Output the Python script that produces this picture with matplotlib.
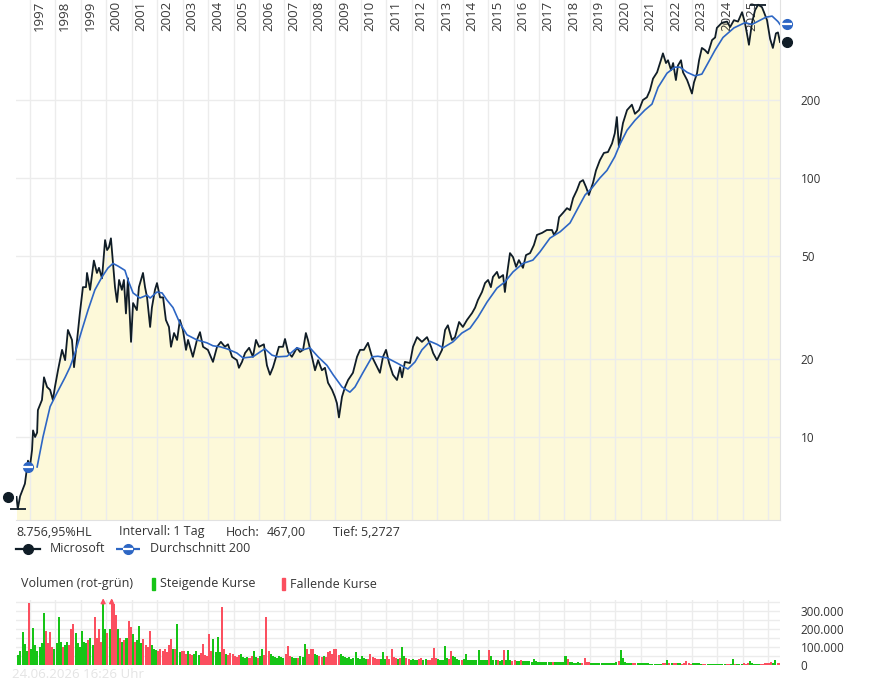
#!/usr/bin/env python3
# Microsoft long-term chart (log scale) with 200-day average and volume panel.

import matplotlib
matplotlib.use("Agg")
import matplotlib.pyplot as plt
import matplotlib.transforms as mtransforms
from matplotlib.lines import Line2D
from matplotlib.patches import Rectangle
from matplotlib.ticker import NullLocator
import numpy as np

plt.rcParams.update({
    "font.family": ["Open Sans", "DejaVu Sans"],
    "font.size": 9,
    "text.color": "#333333",
})

COLORS = {
    "price": "#101d27",
    "ma": "#2d66c4",
    "fill": "#fdf9d9",
    "grid": "#ececec",
    "up": "#16c416",
    "down": "#fb4f5f",
    "label": "#333333",
}

# price (decimal year, value)
price_t = [
    1996.47, 1996.52, 1996.61, 1996.80, 1996.92, 1997.00, 1997.08, 1997.12, 1997.20, 1997.28,
    1997.31, 1997.47, 1997.55, 1997.67, 1997.79, 1997.90, 1997.98, 1998.10, 1998.26, 1998.38,
    1998.49, 1998.65, 1998.73, 1998.85, 1998.96, 1999.08, 1999.20, 1999.24, 1999.36, 1999.51,
    1999.63, 1999.71, 1999.83, 1999.95, 2000.03, 2000.10, 2000.18, 2000.26, 2000.34, 2000.42,
    2000.50, 2000.61, 2000.69, 2000.77, 2000.85, 2000.97, 2001.05, 2001.20, 2001.28, 2001.44,
    2001.52, 2001.60, 2001.72, 2001.79, 2001.91, 2001.99, 2002.11, 2002.23, 2002.34, 2002.46,
    2002.54, 2002.66, 2002.78, 2002.89, 2003.01, 2003.13, 2003.21, 2003.40, 2003.56, 2003.68,
    2003.80, 2003.99, 2004.19, 2004.35, 2004.50, 2004.66, 2004.78, 2004.94, 2005.13, 2005.21,
    2005.33, 2005.45, 2005.61, 2005.76, 2005.88, 2006.00, 2006.19, 2006.31, 2006.43, 2006.55,
    2006.67, 2006.78, 2006.94, 2007.02, 2007.14, 2007.29, 2007.49, 2007.61, 2007.73, 2007.84,
    2007.92, 2008.08, 2008.20, 2008.32, 2008.47, 2008.59, 2008.71, 2008.87, 2008.98, 2009.06,
    2009.14, 2009.26, 2009.38, 2009.50, 2009.69, 2009.85, 2009.97, 2010.12, 2010.28, 2010.44,
    2010.56, 2010.75, 2010.87, 2010.99, 2011.11, 2011.26, 2011.42, 2011.54, 2011.62, 2011.73,
    2011.93, 2012.05, 2012.21, 2012.40, 2012.60, 2012.76, 2012.84, 2012.99, 2013.19, 2013.31,
    2013.42, 2013.58, 2013.70, 2013.86, 2014.01, 2014.17, 2014.37, 2014.49, 2014.60, 2014.76,
    2014.88, 2015.00, 2015.11, 2015.19, 2015.35, 2015.43, 2015.59, 2015.66, 2015.74, 2015.86,
    2015.98, 2016.10, 2016.21, 2016.37, 2016.49, 2016.65, 2016.80, 2016.92, 2017.12, 2017.31,
    2017.51, 2017.59, 2017.71, 2017.79, 2017.94, 2018.10, 2018.22, 2018.34, 2018.49, 2018.61,
    2018.73, 2018.85, 2018.96, 2019.12, 2019.24, 2019.39, 2019.55, 2019.71, 2019.87, 2019.98,
    2020.06, 2020.14, 2020.30, 2020.46, 2020.65, 2020.77, 2020.93, 2021.08, 2021.24, 2021.36,
    2021.48, 2021.64, 2021.79, 2021.87, 2021.99, 2022.07, 2022.19, 2022.27, 2022.38, 2022.46,
    2022.58, 2022.66, 2022.82, 2022.89, 2023.01, 2023.09, 2023.21, 2023.29, 2023.40, 2023.52,
    2023.64, 2023.80, 2023.92, 2023.99, 2024.19, 2024.39, 2024.51, 2024.66, 2024.82, 2024.98,
    2025.09, 2025.17, 2025.25, 2025.37, 2025.49, 2025.61, 2025.76, 2025.84, 2025.96, 2026.08,
    2026.19, 2026.31, 2026.39, 2026.47,
]
price_v = [
    5.87, 5.272694, 5.9, 6.6, 8.1, 7.7, 8.9, 10.6, 10.0, 10.4,
    12.7, 13.9, 17.0, 15.6, 15.2, 13.9, 15.6, 18.1, 21.7, 19.8,
    25.9, 23.7, 18.6, 23.7, 30.1, 37.9, 37.9, 43.0, 37.0, 48.0,
    43.0, 45.0, 41.0, 57.6, 52.7, 54.0, 58.5, 46.8, 37.9, 33.2,
    40.4, 37.0, 40.4, 30.0, 41.0, 23.3, 32.9, 30.9, 37.9, 43.0,
    37.9, 34.6, 26.6, 31.6, 37.0, 39.3, 34.6, 34.6, 28.3, 26.6,
    22.3, 25.2, 23.7, 28.3, 25.9, 21.7, 23.7, 20.4, 23.7, 25.4,
    22.3, 21.7, 19.5, 22.3, 23.3, 22.3, 22.8, 20.4, 19.8, 18.5,
    19.5, 21.1, 22.1, 20.4, 23.7, 22.3, 22.8, 18.9, 17.4, 18.6,
    20.4, 22.3, 22.3, 23.9, 21.3, 20.4, 22.1, 21.3, 21.7, 25.2,
    23.7, 20.4, 18.1, 19.8, 18.1, 18.5, 16.2, 15.2, 14.3, 13.5,
    11.9, 14.3, 15.6, 16.6, 17.7, 20.4, 21.7, 21.7, 23.1, 20.4,
    19.3, 17.7, 20.4, 21.7, 19.3, 17.4, 16.6, 18.6, 17.0, 19.5,
    19.3, 22.3, 24.3, 23.3, 24.3, 22.3, 21.1, 19.8, 21.7, 25.9,
    27.0, 23.7, 24.3, 27.8, 26.6, 28.3, 30.1, 31.6, 33.8, 36.3,
    39.3, 40.4, 37.9, 41.5, 43.4, 41.1, 42.2, 36.3, 42.2, 51.3,
    49.5, 45.4, 48.2, 45.0, 50.4, 51.3, 55.1, 60.3, 61.4, 63.0,
    63.0, 60.3, 63.0, 70.6, 73.3, 76.5, 75.2, 83.6, 89.8, 96.5,
    98.2, 92.2, 86.0, 95.6, 107, 117, 125, 126, 136, 149,
    172, 132, 163, 183, 192, 177, 183, 200, 205, 218,
    242, 256, 285, 303, 278, 285, 261, 278, 239, 272,
    285, 256, 239, 229, 212, 234, 254, 285, 318, 312,
    303, 341, 349, 380, 398, 402, 383, 407, 402, 437,
    398, 362, 327, 398, 445, 467.0, 457, 437, 407, 345,
    318, 362, 365, 335,
]

# 200-day average
ma_t = [
    1997.28, 1997.51, 1997.79, 1998.06, 1998.38, 1998.57, 1998.77, 1999.04, 1999.28, 1999.55,
    1999.83, 2000.06, 2000.26, 2000.46, 2000.73, 2000.85, 2001.05, 2001.32, 2001.60, 2001.72,
    2001.99, 2002.19, 2002.38, 2002.62, 2002.89, 2003.17, 2003.56, 2003.95, 2004.19, 2004.47,
    2004.74, 2005.13, 2005.37, 2005.76, 2006.04, 2006.23, 2006.51, 2006.74, 2007.10, 2007.49,
    2007.73, 2008.00, 2008.32, 2008.67, 2008.91, 2009.26, 2009.57, 2009.77, 2010.08, 2010.44,
    2010.67, 2011.03, 2011.42, 2011.85, 2012.13, 2012.40, 2012.72, 2012.99, 2013.23, 2013.62,
    2013.97, 2014.29, 2014.60, 2014.96, 2015.35, 2015.66, 2015.98, 2016.37, 2016.76, 2017.04,
    2017.43, 2017.83, 2018.22, 2018.53, 2018.81, 2019.08, 2019.39, 2019.67, 2019.98, 2020.18,
    2020.46, 2020.77, 2021.16, 2021.44, 2021.68, 2022.03, 2022.34, 2022.54, 2022.82, 2023.13,
    2023.40, 2023.64, 2023.92, 2024.23, 2024.66, 2025.09, 2025.37, 2025.69, 2025.92, 2026.16,
    2026.39, 2026.47,
]
ma_v = [
    7.66, 10.0, 13.1, 14.8, 17.0, 18.6, 21.1, 25.9, 30.9, 37.0,
    41.5, 44.9, 46.8, 45.7, 44.0, 40.4, 36.0, 34.4, 35.3, 34.4,
    36.3, 36.0, 33.8, 31.6, 27.5, 24.8, 23.7, 23.1, 22.5, 22.3,
    21.9, 21.1, 20.2, 20.4, 21.3, 21.9, 20.7, 20.4, 20.5, 22.1,
    21.7, 22.1, 20.4, 18.9, 17.4, 15.6, 14.9, 15.6, 17.7, 20.4,
    20.5, 20.2, 19.3, 18.3, 19.5, 21.7, 23.4, 22.8, 22.1, 23.3,
    25.2, 26.3, 29.0, 33.2, 37.6, 39.7, 43.4, 46.8, 48.2, 51.9,
    58.6, 62.0, 67.1, 76.5, 86.0, 91.5, 100, 107, 121, 135,
    153, 167, 183, 193, 224, 254, 268, 268, 256, 248,
    252, 278, 312, 349, 380, 398, 392, 407, 418, 422,
    402, 392,
]

# monthly volume in thousands, Jul 1996 .. Jun 2026
volume_k = [
    [55, 75, 185, 117, 80, 345],                                  # 1996 (Jul-Dec)
    [90, 204, 110, 80, 100, 120, 287, 190, 120, 181, 100, 90],     # 1997
    [120, 265, 130, 100, 110, 130, 110, 200, 228, 180, 120, 100],  # 1998
    [190, 130, 120, 140, 150, 110, 265, 150, 200, 130, 420, 200],  # 1999
    [180, 200, 420, 340, 275, 200, 150, 130, 140, 150, 246, 210],  # 2000
    [172, 130, 140, 218, 120, 145, 110, 100, 190, 110, 90, 85],    # 2001
    [80, 90, 80, 90, 70, 110, 144, 90, 90, 228, 70, 80],           # 2002
    [80, 60, 80, 60, 55, 60, 80, 55, 65, 117, 55, 50],             # 2003
    [172, 80, 144, 70, 155, 70, 320, 89, 60, 55, 65, 60],          # 2004
    [50, 45, 55, 60, 45, 40, 45, 40, 50, 80, 45, 40],              # 2005
    [50, 89, 55, 265, 80, 60, 50, 45, 40, 50, 45, 40],             # 2006
    [60, 107, 50, 45, 40, 40, 40, 50, 45, 117, 90, 60],            # 2007
    [89, 90, 60, 55, 50, 45, 50, 45, 70, 80, 60, 89],              # 2008
    [89, 55, 60, 50, 45, 40, 45, 35, 40, 74, 40, 35],              # 2009
    [50, 40, 35, 35, 60, 45, 40, 35, 35, 35, 70, 35],              # 2010
    [50, 35, 89, 45, 40, 35, 40, 98, 50, 40, 35, 30],              # 2011
    [35, 30, 30, 35, 40, 30, 35, 30, 30, 40, 94, 40],              # 2012
    [35, 30, 30, 107, 40, 35, 80, 50, 45, 35, 30, 30],             # 2013
    [35, 61, 30, 25, 30, 25, 25, 85, 30, 30, 25, 30],              # 2014
    [83, 52, 25, 30, 25, 20, 30, 85, 25, 83, 25, 20],              # 2015
    [25, 20, 20, 25, 20, 20, 20, 20, 18, 33, 20, 18],              # 2016
    [18, 15, 15, 15, 15, 15, 15, 15, 15, 18, 15, 15],              # 2017
    [52, 33, 15, 15, 13, 12, 15, 12, 12, 39, 15, 15],              # 2018
    [12, 10, 10, 10, 10, 10, 10, 10, 10, 10, 10, 10],              # 2019
    [15, 20, 83, 39, 15, 12, 12, 10, 12, 10, 10, 10],              # 2020
    [10, 9, 9, 9, 8, 8, 8, 8, 8, 8, 9, 9],                         # 2021
    [28, 10, 10, 9, 9, 9, 9, 8, 9, 20, 9, 8],                      # 2022
    [9, 10, 9, 9, 8, 8, 8, 8, 8, 8, 8, 8],                         # 2023
    [8, 8, 8, 8, 8, 7, 8, 32, 8, 8, 7, 8],                         # 2024
    [10, 8, 10, 22, 9, 8, 8, 8, 8, 8, 9, 10],                      # 2025
    [12, 14, 12, 30, 12, 10],                                      # 2026 (Jan-Jun)
]
volume_start = 1996.5  # July 1996

years = list(range(1997, 2027))
year_labels = years[:-1]  # the last gridline carries no label
price_ticks = [10, 20, 50, 100, 200]
volume_ticks = [0, 100000, 200000, 300000]

FIG_W, FIG_H = 895, 685
X_LEFT, X_RIGHT = 16, 780


def fx(px):
    return px / FIG_W


def fy(py):
    return 1 - py / FIG_H


def de(v, nd):
    s = f"{v:,.{nd}f}"
    return s.replace(",", "X").replace(".", ",").replace("X", ".")


def style_axis(ax):
    for side in ("top", "left"):
        ax.spines[side].set_visible(False)
    for side in ("right", "bottom"):
        ax.spines[side].set_color("#e2e2e2")
    ax.set_xticks(years)
    ax.set_xticklabels([])
    ax.xaxis.set_minor_locator(NullLocator())
    ax.yaxis.set_minor_locator(NullLocator())
    ax.tick_params(length=0, labelsize=8.5, labelcolor=COLORS["label"], pad=15)
    ax.yaxis.tick_right()
    ax.grid(True, color=COLORS["grid"], linewidth=1)
    ax.set_axisbelow("line")
    ax.set_xlim(1996.45, 2026.47)


fig = plt.figure(figsize=(FIG_W / 100, FIG_H / 100), dpi=100)

# price panel
ax = fig.add_axes([fx(X_LEFT), fy(520), fx(X_RIGHT - X_LEFT), 520 / FIG_H])
ax.set_yscale("log")
ax.set_ylim(4.78, 487)
style_axis(ax)
ax.set_yticks(price_ticks)
ax.set_yticklabels([str(t) for t in price_ticks])
ax.yaxis.set_minor_locator(NullLocator())

ax.fill_between(price_t, price_v, 4.78, color=COLORS["fill"], linewidth=0, zorder=1)
ax.plot(price_t, price_v, color=COLORS["price"], linewidth=1.3, zorder=3)
ax.plot(ma_t, ma_v, color=COLORS["ma"], linewidth=1.2, zorder=4)

hi, lo = max(price_v), min(price_v)
ax.plot([price_t[price_v.index(lo)]], [lo], marker="_", markersize=11,
        mew=1.3, color=COLORS["price"], zorder=5, clip_on=False)
ax.plot([price_t[price_v.index(hi)]], [hi], marker="_", markersize=11,
        mew=1.3, color=COLORS["price"], zorder=5, clip_on=False)

# end markers outside the plot area
trans = mtransforms.blended_transform_factory(ax.transAxes, ax.transData)
ax.plot([-0.0105], [price_v[0]], "o", color=COLORS["price"], markersize=7,
        transform=trans, clip_on=False)
ax.plot([1.009], [price_v[-1]], "o", color=COLORS["price"], markersize=7,
        transform=trans, clip_on=False)
for xa in (0.0157, 1.009):
    yv = ma_v[0] if xa < 0.5 else ma_v[-1]
    ax.plot([xa], [yv], "o", color=COLORS["ma"], markersize=7,
            transform=trans, clip_on=False, zorder=6)
    ax.plot([xa], [yv], "_", color="white", markersize=7, mew=1.6,
            transform=trans, clip_on=False, zorder=7)

for yr in year_labels:
    ax.annotate(str(yr), xy=(yr, 1), xycoords=("data", "axes fraction"),
                xytext=(2, -0.5), textcoords="offset points", rotation=90,
                ha="left", va="top", fontsize=9.5, color="#3a3a3a", zorder=2)

# info lines
row1 = 532
fig.text(fx(16), fy(row1), f"{de((hi / lo - 1) * 100, 2)}%HL", va="center", fontsize=9)
fig.text(fx(119), fy(row1), "Intervall: 1 Tag", va="center", fontsize=9)
fig.text(fx(226), fy(row1), "Hoch:", va="center", fontsize=9)
fig.text(fx(267), fy(row1), de(hi, 2), va="center", fontsize=9)
fig.text(fx(333), fy(row1), f"Tief: {de(lo, 4)}", va="center", fontsize=9)

row2 = 549
fig.add_artist(Line2D([fx(16), fx(40)], [fy(row2)] * 2, color=COLORS["price"],
                      linewidth=1.6, transform=fig.transFigure))
fig.add_artist(Line2D([fx(28)], [fy(row2)], marker="o", markersize=7,
                      color=COLORS["price"], transform=fig.transFigure))
fig.text(fx(50), fy(row2), "Microsoft", va="center", fontsize=9)
fig.add_artist(Line2D([fx(116), fx(140)], [fy(row2)] * 2, color=COLORS["ma"],
                      linewidth=1.6, dashes=(4.5, 2.5), transform=fig.transFigure))
fig.add_artist(Line2D([fx(128)], [fy(row2)], marker="o", markersize=7,
                      color=COLORS["ma"], transform=fig.transFigure))
fig.add_artist(Line2D([fx(128)], [fy(row2)], marker="_", markersize=7, mew=1.6,
                      color="white", transform=fig.transFigure))
fig.text(fx(150), fy(row2), "Durchschnitt 200", va="center", fontsize=9)

row3 = 584
fig.text(fx(21), fy(row3), "Volumen (rot-grün)", va="center", fontsize=9)
fig.add_artist(Rectangle((fx(152), fy(590)), fx(3), 12 / FIG_H,
                         color=COLORS["up"], transform=fig.transFigure))
fig.text(fx(160), fy(row3), "Steigende Kurse", va="center", fontsize=9)
fig.add_artist(Rectangle((fx(282), fy(590)), fx(3), 12 / FIG_H,
                         color=COLORS["down"], transform=fig.transFigure))
fig.text(fx(290), fy(row3), "Fallende Kurse", va="center", fontsize=9)

# volume panel
vol = np.array([v for row in volume_k for v in row], dtype=float) * 1000
t0 = volume_start + np.arange(len(vol)) / 12
mid = t0 + 1 / 24
p_start = np.interp(t0, price_t, price_v)
p_end = np.interp(t0 + 1 / 12, price_t, price_v)
bar_colors = [COLORS["up"] if e >= s else COLORS["down"] for s, e in zip(p_start, p_end)]

vmax = 360000
axv = fig.add_axes([fx(X_LEFT), fy(665), fx(X_RIGHT - X_LEFT), 65 / FIG_H])
style_axis(axv)
axv.spines["right"].set_visible(False)
axv.spines["bottom"].set_visible(False)
axv.set_ylim(0, vmax)
axv.set_yticks(np.arange(0, vmax, 50000))
axv.set_yticklabels([de(t, 0) if t in volume_ticks else "" for t in np.arange(0, vmax, 50000)])
axv.bar(mid, vol, width=1 / 12 * 0.95, color=bar_colors, linewidth=0, zorder=2)
for t, v in zip(mid, vol):
    if v > vmax:
        axv.annotate("", xy=(t, 1.07), xycoords=("data", "axes fraction"),
                     xytext=(t, 0.9), textcoords=("data", "axes fraction"),
                     arrowprops=dict(arrowstyle="-|>", color=COLORS["down"],
                                     lw=1.0, mutation_scale=7),
                     annotation_clip=False)

fig.text(fx(12), fy(675), "24.06.2026 16:26 Uhr", va="center", fontsize=9.5,
         color="#e4e4e4")

fig.savefig("out.png", dpi=100)
